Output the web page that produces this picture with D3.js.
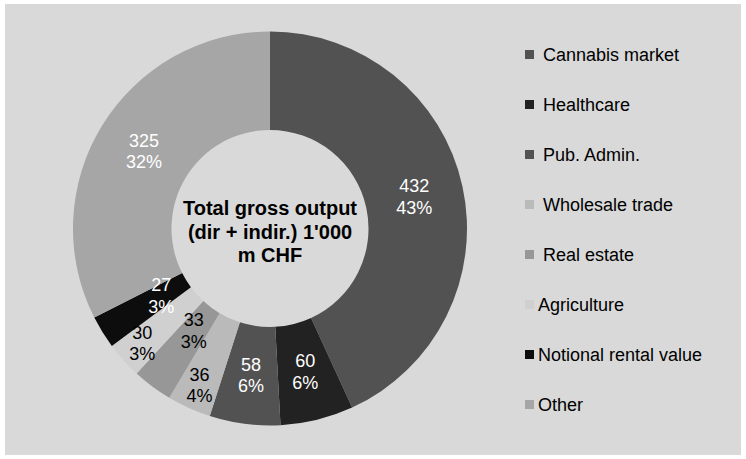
<!DOCTYPE html>
<html><head><meta charset="utf-8">
<script src="https://cdn.jsdelivr.net/npm/d3@7"></script>
<style>html,body{margin:0;padding:0;background:#fff}svg{display:block}text{font-family:"Liberation Sans",Arial,sans-serif}</style>
</head><body>
<script>
const categories = ["Cannabis market","Healthcare","Pub. Admin.","Wholesale trade","Real estate","Agriculture","Notional rental value","Other"];
const values = [432, 60, 58, 36, 33, 30, 27, 325];
const percents = ["43%","6%","6%","4%","3%","3%","3%","32%"];
const colors = ["#525252","#222222","#525252","#bababa","#979797","#d0d0d0","#0d0d0d","#a6a6a6"];
const labelColors = ["#fff","#fff","#fff","#000","#000","#000","#fff","#fff"];
const centerTitle = ["Total gross output","(dir + indir.) 1'000","m CHF"];

const W = 746, H = 459;
const svg = d3.select("body").append("svg").attr("width", W).attr("height", H);
svg.append("rect").attr("x",5).attr("y",4).attr("width",736).attr("height",451).attr("fill","#d9d9d9");

const cx = 270, cy = 228.5, rOuter = 197, rInner = 98.5;
const g = svg.append("g").attr("transform", `translate(${cx},${cy})`);
const pie = d3.pie().sort(null).value(d => d)(values);
const arc = d3.arc().innerRadius(rInner).outerRadius(rOuter);

g.selectAll("path.slice").data(pie).join("path").attr("class","slice")
  .attr("d", arc).attr("fill", (d,i) => colors[i]);

// labels: centroid, small slices staggered outward / inward
const total = d3.sum(values);
let smallIdx = 0;
pie.forEach((d,i) => {
  let shift = 0;
  if (d.value / total < 0.05) { shift = (smallIdx % 2 === 0) ? 24 : -20; smallIdx++; }
  const la = d3.arc().innerRadius(rInner + shift).outerRadius(rOuter + shift);
  const [x, y] = la.centroid(d);
  const t = g.append("text").attr("text-anchor","middle").attr("font-size",18).attr("fill", labelColors[i]);
  t.append("tspan").attr("x", x).attr("y", y - 4.5).text(values[i]);
  t.append("tspan").attr("x", x).attr("y", y + 17).text(percents[i]);
});

// center title
const ct = g.append("text").attr("text-anchor","middle").attr("font-size",20).attr("font-weight","bold").attr("fill","#000");
centerTitle.forEach((s,i) => ct.append("tspan").attr("x",0).attr("y", -13.5 + i*23.5).text(s));

// legend
const leg = svg.append("g");
const legendY = d3.scaleLinear().domain([0, categories.length-1]).range([61, 411]);
categories.forEach((c,i) => {
  const y = legendY(i);
  leg.append("rect").attr("x",525).attr("y", y-11).attr("width",9).attr("height",9).attr("fill", colors[i]);
  leg.append("text").attr("x", i < 5 ? 543 : 538).attr("y", y).attr("font-size",18).attr("fill","#000").text(c);
});
</script>
</body></html>
